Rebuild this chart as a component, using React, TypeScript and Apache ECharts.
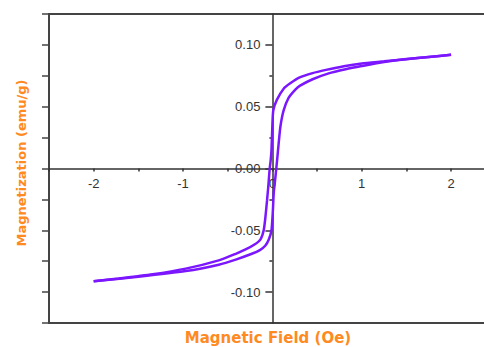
import React, { useEffect, useRef } from "react";
import * as echarts from "echarts";

// Descending branch (field swept from +2 to -2)
const descH = [2, 1.75, 1.5, 1.25, 1.0, 0.8, 0.6, 0.45, 0.3, 0.2, 0.13, 0.05, 0.01, 0.0, -0.01, -0.02, -0.03, -0.045, -0.06, -0.078, -0.097, -0.134, -0.2, -0.3, -0.41, -0.6, -0.97, -1.34, -1.72, -2.0];
const descM = [0.092, 0.0903, 0.0885, 0.0867, 0.085, 0.0828, 0.0798, 0.0772, 0.0735, 0.069, 0.065, 0.0555, 0.047, 0.035, 0.015, 0.006, 0.0, -0.014, -0.026, -0.0394, -0.05, -0.0575, -0.0615, -0.0655, -0.069, -0.0743, -0.081, -0.0856, -0.089, -0.0912];

// Ascending branch (field swept from -2 to +2)
const ascH = [-2.0, -1.5, -0.97, -0.6, -0.41, -0.23, -0.14, -0.08, -0.04, -0.01, 0.005, 0.015, 0.034, 0.052, 0.07, 0.09, 0.126, 0.18, 0.26, 0.31, 0.45, 0.63, 0.82, 1.0, 1.25, 1.5, 1.75, 2.0];
const ascM = [-0.0912, -0.0876, -0.083, -0.0778, -0.0737, -0.069, -0.066, -0.0625, -0.0575, -0.05, -0.035, -0.02, -0.007, 0.006, 0.02, 0.034, 0.047, 0.057, 0.064, 0.067, 0.0722, 0.077, 0.0803, 0.0829, 0.0862, 0.0884, 0.0902, 0.092];

const yLabelValues = [-0.1, -0.05, 0, 0.05, 0.1];
const yMinorValues = [-0.075, -0.025, 0.025, 0.075];
const xTitle = "Magnetic Field (Oe)";
const yTitle = "Magnetization (emu/g)";

const AXIS = "#333333";
const FRAME = "#444444";
const CURVE = "#7B16FF";
const ORANGE = "#FF8A1F";

const GRID_LEFT = 49;
const GRID_TOP = 14;
const GRID_W = 446.75;
const GRID_H = 309;
const X_MIN = -2.5, X_MAX = 2.5, Y_MIN = -0.125, Y_MAX = 0.125;

export default function App() {
  const ref = useRef<HTMLDivElement>(null);
  useEffect(() => {
    if (!ref.current) return;
    const chart = echarts.init(ref.current, undefined, { renderer: "svg" });
    const font = { fontFamily: "Liberation Sans, Arial, sans-serif", fontSize: 13, color: AXIS };
    // offsets that move the labelled axes onto the zero lines
    const yAxisOffset = -(GRID_W * (0 - X_MIN)) / (X_MAX - X_MIN);
    const xAxisOffset = -(GRID_H * (0 - Y_MIN)) / (Y_MAX - Y_MIN);
    chart.setOption({
      animation: false,
      grid: {
        left: GRID_LEFT,
        top: GRID_TOP,
        width: GRID_W,
        height: GRID_H,
        show: true,
        borderColor: FRAME,
        borderWidth: 2,
      },
      xAxis: [
        {
          type: "value",
          min: X_MIN,
          max: X_MAX,
          interval: 0.5,
          position: "bottom",
          offset: xAxisOffset,
          axisLine: { show: true, onZero: false, lineStyle: { color: AXIS, width: 1.5 } },
          axisTick: { show: true, length: 3, lineStyle: { color: AXIS, width: 1.5 } },
          axisLabel: {
            ...font,
            margin: 8,
            formatter: (v: number) => (Number.isInteger(v) && Math.abs(v) <= 2 ? String(v) : ""),
          },
          splitLine: { show: false },
        },
      ],
      yAxis: [
        {
          type: "value",
          min: Y_MIN,
          max: Y_MAX,
          position: "left",
          offset: yAxisOffset,
          axisLine: { show: true, onZero: false, lineStyle: { color: AXIS, width: 1.5 } },
          axisTick: { show: true, length: 7, customValues: yLabelValues, lineStyle: { color: AXIS, width: 1.5 } },
          axisLabel: {
            ...font,
            margin: 12,
            customValues: yLabelValues,
            formatter: (v: number) => v.toFixed(2),
          },
          splitLine: { show: false },
        },
        {
          type: "value",
          min: Y_MIN,
          max: Y_MAX,
          position: "left",
          offset: yAxisOffset,
          axisLine: { show: false, onZero: false },
          axisTick: { show: true, length: 3, customValues: yMinorValues, lineStyle: { color: AXIS, width: 1.5 } },
          axisLabel: { show: false },
          splitLine: { show: false },
        },
        {
          type: "value",
          min: Y_MIN,
          max: Y_MAX,
          interval: 0.025,
          position: "left",
          offset: 0,
          axisLine: { show: true, onZero: false, lineStyle: { color: FRAME, width: 2 } },
          axisTick: { show: true, length: 7, lineStyle: { color: FRAME, width: 1.5 } },
          axisLabel: { show: false },
          splitLine: { show: false },
        },
      ],
      series: [
        {
          type: "line",
          name: "descending",
          data: descH.map((h, i) => [h, descM[i]]),
          showSymbol: false,
          smooth: 0.2,
          lineStyle: { color: CURVE, width: 2.5 },
          itemStyle: { color: CURVE },
        },
        {
          type: "line",
          name: "ascending",
          data: ascH.map((h, i) => [h, ascM[i]]),
          showSymbol: false,
          smooth: 0.2,
          lineStyle: { color: CURVE, width: 2.5 },
          itemStyle: { color: CURVE },
        },
      ],
      graphic: [
        {
          type: "text",
          x: 268,
          y: 338,
          style: {
            text: xTitle,
            fill: ORANGE,
            font: "bold 15px 'DejaVu Sans', Verdana, sans-serif",
            textAlign: "center",
            textVerticalAlign: "middle",
          },
        },
        {
          type: "text",
          x: 21,
          y: 163,
          rotation: Math.PI / 2,
          style: {
            text: yTitle,
            fill: ORANGE,
            font: "bold 13px 'DejaVu Sans', Verdana, sans-serif",
            textAlign: "center",
            textVerticalAlign: "middle",
          },
        },
      ],
    });
    return () => chart.dispose();
  }, []);
  return (
    <div style={{ position: "fixed", left: 0, top: 0, width: 484, height: 347, overflow: "hidden", background: "#fff" }}>
      <div ref={ref} style={{ width: 500, height: 347 }} />
    </div>
  );
}
